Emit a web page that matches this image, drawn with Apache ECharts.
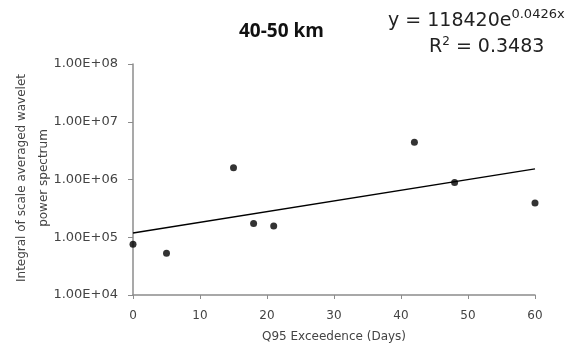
<!DOCTYPE html>
<html><head><meta charset="utf-8">
<script src="https://cdn.jsdelivr.net/npm/echarts@6/dist/echarts.min.js"></script>
<style>html,body{margin:0;padding:0;background:#fff}#c{width:586px;height:350px}</style>
</head><body><div id="c"></div>
<script>
const xDays = [0, 5, 15, 18, 21, 42, 48, 60];
const powerValues = [76000, 53000, 1600000, 173000, 157000, 4400000, 890000, 390000];
const trendX = [0, 60];
const trendY = [118420, 1525000];
const xTicks = [0, 10, 20, 30, 40, 50, 60];
const yTickLabels = ['1.00E+04', '1.00E+05', '1.00E+06', '1.00E+07', '1.00E+08'];

const chart = echarts.init(document.getElementById('c'));
const font = '"DejaVu Sans", sans-serif';
const tfont = '"Open Sans", sans-serif';
chart.setOption({
  animation: false,
  backgroundColor: '#fff',
  grid: {left: 133, right: 51, top: 64, bottom: 55, containLabel: false, outerBoundsMode: 'none'},
  xAxis: {
    type: 'value', min: 0, max: 60, interval: 10,
    axisLine: {lineStyle: {color: '#8c8c8c', width: 1.5}},
    axisTick: {show: true, length: 4, lineStyle: {color: '#8c8c8c'}},
    splitLine: {show: false},
    axisLabel: {color: '#444', fontFamily: font, fontSize: 12, margin: 15,
      formatter: v => xTicks.includes(v) ? String(v) : ''},
    name: 'Q95 Exceedence (Days)', nameLocation: 'middle', nameGap: 36,
    nameTextStyle: {color: '#444', fontFamily: font, fontSize: 12}
  },
  yAxis: {
    type: 'log', logBase: 10, min: 1e4, max: 1e8,
    axisLine: {show: true, lineStyle: {color: '#8c8c8c', width: 1.5}},
    axisTick: {show: true, length: 5, lineStyle: {color: '#8c8c8c'}},
    splitLine: {show: false},
    axisLabel: {color: '#444', fontFamily: font, fontSize: 13, margin: 15,
      formatter: v => { const e = Math.round(Math.log10(v)); return yTickLabels[e - 4] || ''; }}
  },
  series: [
    {type: 'scatter', data: xDays.map((x, i) => [x, powerValues[i]]),
     symbol: 'circle', symbolSize: 7, itemStyle: {color: '#000'}},
    {type: 'line', data: trendX.map((x, i) => [x, trendY[i]]),
     symbol: 'none', lineStyle: {color: '#000', width: 1.3}}
  ],
  graphic: [
    {type: 'text', x: 33, y: 178, rotation: Math.PI / 2,
     style: {text: 'Integral of scale averaged wavelet\npower spectrum', align: 'center', verticalAlign: 'middle',
       fontFamily: font, fontSize: 12, lineHeight: 22, fill: '#444'}},
    {type: 'text', left: 239, top: 22,
     style: {text: '40-50 km', font: 'bold 19px ' + tfont, fill: '#111'}},
    {type: 'text', left: 388, top: 8,
     style: {text: '{n|y = 118420e}{s|0.0426x}', fill: '#222',
       rich: {n: {fontFamily: font, fontSize: 19, fill: '#222', verticalAlign: 'bottom'},
              s: {fontFamily: font, fontSize: 13, fill: '#222', verticalAlign: 'top', padding: [0,0,10,0]}}}},
    {type: 'text', left: 429, top: 36,
     style: {text: '{n|R}{s|2}{n| = 0.3483}', fill: '#222',
       rich: {n: {fontFamily: font, fontSize: 19, fill: '#222'},
              s: {fontFamily: font, fontSize: 12, fill: '#222', padding: [0,0,10,0]}}}}
  ]
});
</script></body></html>
